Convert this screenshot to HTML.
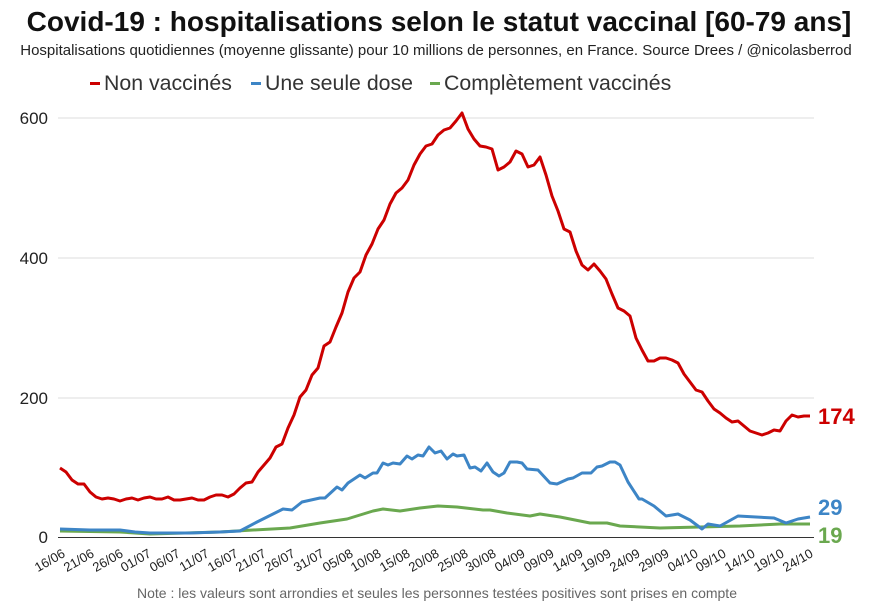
<!DOCTYPE html>
<html><head><meta charset="utf-8"><style>
body{margin:0;background:#fff;width:874px;height:609px;overflow:hidden;font-family:"Liberation Sans",Arial,sans-serif}
</style></head><body>
<svg width="874" height="609" xmlns="http://www.w3.org/2000/svg" font-family="Liberation Sans, Arial, sans-serif">
<text x="439" y="31" text-anchor="middle" font-size="28" font-weight="bold" fill="#111">Covid-19 : hospitalisations selon le statut vaccinal [60-79 ans]</text>
<text x="436" y="55" text-anchor="middle" font-size="15" fill="#222">Hospitalisations quotidiennes (moyenne glissante) pour 10 millions de personnes, en France. Source Drees / @nicolasberrod</text>
<g font-size="21.3" fill="#333">
<rect x="90" y="82" width="10" height="3" fill="#cc0000"/><text x="104" y="90">Non vaccinés</text>
<rect x="251" y="82" width="10" height="3" fill="#3d85c6"/><text x="265" y="90">Une seule dose</text>
<rect x="430" y="82" width="10" height="3" fill="#6aa84f"/><text x="444" y="90">Complètement vaccinés</text>
</g>
<g stroke="#ddd" stroke-width="1">
<line x1="58" x2="814" y1="118" y2="118"/><line x1="58" x2="814" y1="258" y2="258"/><line x1="58" x2="814" y1="398" y2="398"/>
</g>
<line x1="58" x2="814" y1="537.5" y2="537.5" stroke="#333" stroke-width="1"/>
<g font-size="17" fill="#222" text-anchor="end">
<text x="48" y="124">600</text><text x="48" y="264">400</text><text x="48" y="404">200</text><text x="48" y="543">0</text>
</g>
<polyline fill="none" stroke="#6aa84f" stroke-width="3" stroke-linejoin="round" points="60,531 120,532 150,534 220,532 253,530 290,528 320,523 347,519 373,511 383,509 400,511 420,508 438,506 457,507 483,510 490,510 507,513 530,516 540,514 560,517 590,523 607,523 620,526 640,527 660,528 700,527 740,526 780,524 810,524"/>
<polyline fill="none" stroke="#3d85c6" stroke-width="3" stroke-linejoin="round" points="60,529 90,530 120,530 135,532 150,533 190,533 220,532 240,531 257,522 283,509 292,510 302,502 320,498 325,498 337,487 342,490 348,483 360,475 365,478 373,473 377,473 383,463 388,465 393,463 400,464 407,456 412,459 418,455 423,456 429,447 435,453 441,451 447,459 453,454 457,456 464,455 470,468 475,467 481,471 487,463 493,472 499,476 504,473 510,462 517,462 522,463 527,469 538,470 550,483 557,484 568,479 573,478 582,473 591,473 597,467 602,466 610,462 615,462 620,465 628,482 639,499 642,499 654,506 666,516 678,514 690,520 702,529 708,524 720,526 738,516 756,517 774,518 786,523 798,519 810,517"/>
<polyline fill="none" stroke="#cc0000" stroke-width="3" stroke-linejoin="round" points="60,468 66,472 72,480 78,484 84,484 90,492 96,497 102,499 108,498 114,499 120,501 126,499 132,498 138,500 144,498 150,497 156,499 162,499 168,497 174,500 180,500 186,499 192,498 198,500 204,500 210,497 216,495 222,495 228,497 234,494 240,488 246,483 252,482 258,472 264,465 270,458 276,447 282,444 288,428 294,415 300,397 306,390 312,375 318,368 324,346 330,342 336,327 342,313 348,292 354,278 360,272 366,255 372,244 378,229 384,220 390,204 396,193 402,188 408,180 414,165 420,154 426,146 432,144 438,135 444,130 450,128 456,121 462,113 468,129 474,139 480,146 486,147 492,149 498,170 504,167 510,162 516,151 522,154 528,167 534,165 540,157 546,175 552,196 558,211 564,229 570,232 576,251 582,265 588,270 594,264 600,271 606,279 612,294 618,308 624,311 630,316 636,338 642,350 648,361 654,361 660,358 666,358 672,360 678,363 684,374 690,382 696,390 702,392 708,401 714,409 720,413 726,418 732,422 738,421 744,426 750,431 756,433 762,435 768,433 774,430 780,431 786,421 792,415 798,417 804,416 810,416"/>
<g font-size="22" font-weight="bold">
<text x="818" y="424" fill="#cc0000">174</text>
<text x="818" y="515" fill="#3d85c6">29</text>
<text x="818" y="543" fill="#6aa84f">19</text>
</g>
<g font-size="13" fill="#222" text-anchor="end">
<text transform="translate(66,556) rotate(-30)">16/06</text>
<text transform="translate(95,556) rotate(-30)">21/06</text>
<text transform="translate(124,556) rotate(-30)">26/06</text>
<text transform="translate(152,556) rotate(-30)">01/07</text>
<text transform="translate(181,556) rotate(-30)">06/07</text>
<text transform="translate(210,556) rotate(-30)">11/07</text>
<text transform="translate(239,556) rotate(-30)">16/07</text>
<text transform="translate(267,556) rotate(-30)">21/07</text>
<text transform="translate(296,556) rotate(-30)">26/07</text>
<text transform="translate(325,556) rotate(-30)">31/07</text>
<text transform="translate(354,556) rotate(-30)">05/08</text>
<text transform="translate(382,556) rotate(-30)">10/08</text>
<text transform="translate(411,556) rotate(-30)">15/08</text>
<text transform="translate(440,556) rotate(-30)">20/08</text>
<text transform="translate(469,556) rotate(-30)">25/08</text>
<text transform="translate(497,556) rotate(-30)">30/08</text>
<text transform="translate(526,556) rotate(-30)">04/09</text>
<text transform="translate(555,556) rotate(-30)">09/09</text>
<text transform="translate(584,556) rotate(-30)">14/09</text>
<text transform="translate(612,556) rotate(-30)">19/09</text>
<text transform="translate(641,556) rotate(-30)">24/09</text>
<text transform="translate(670,556) rotate(-30)">29/09</text>
<text transform="translate(699,556) rotate(-30)">04/10</text>
<text transform="translate(727,556) rotate(-30)">09/10</text>
<text transform="translate(756,556) rotate(-30)">14/10</text>
<text transform="translate(785,556) rotate(-30)">19/10</text>
<text transform="translate(814,556) rotate(-30)">24/10</text>
</g>
<text x="437" y="598" text-anchor="middle" font-size="14" fill="#666">Note : les valeurs sont arrondies et seules les personnes testées positives sont prises en compte</text>
</svg>
</body></html>
